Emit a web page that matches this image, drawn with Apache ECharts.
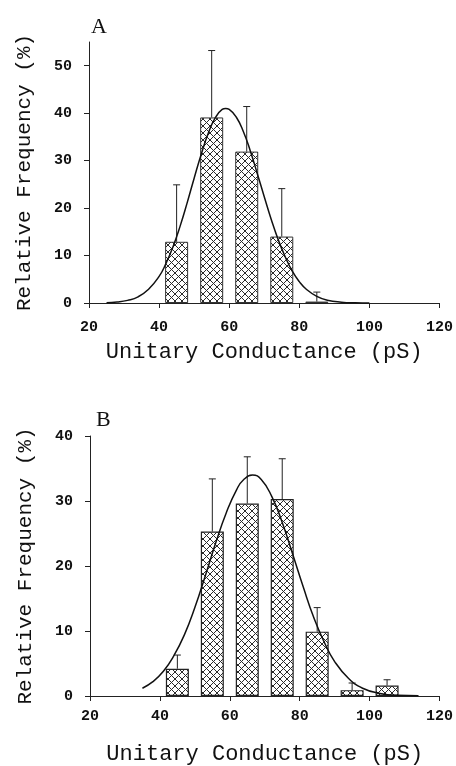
<!DOCTYPE html>
<html>
<head>
<meta charset="utf-8">
<script src="https://cdn.jsdelivr.net/npm/echarts@6/dist/echarts.min.js"></script>
<style>
html,body{margin:0;padding:0;background:#fff;}
#chart{width:456px;height:766px;}
</style>
</head>
<body>
<div id="chart"></div>
<script>
// ---- data ----
const panelLabels = ['A', 'B'];
const xTitle = 'Unitary Conductance (pS)';
const yTitle = 'Relative Frequency (%)';

// Panel A
const binsA = [45, 55, 65, 75, 85];
const freqA = [12.9, 39.1, 31.9, 14.0, 0.3];
const errTopA = [24.9, 53.2, 41.4, 24.1, 2.3];
const curveAx = [25, 28, 31, 34, 37, 40, 42, 44, 46, 48, 50, 52, 54, 56, 58, 59, 60, 62, 64, 66, 68, 70, 72, 74, 76, 78, 80, 82, 85, 88, 92, 96, 100];
const curveAy = [0.07, 0.2, 0.55, 1.3, 2.9, 5.6, 8.4, 11.9, 16.2, 21.1, 26.3, 31.3, 35.7, 39.0, 40.8, 41.0, 40.8, 39.2, 36.2, 32.1, 27.3, 22.4, 17.6, 13.3, 9.7, 6.7, 4.5, 2.9, 1.4, 0.6, 0.18, 0.04, 0];

// Panel B
const binsB = [45, 55, 65, 75, 85, 95, 105];
const freqB = [4.2, 25.3, 29.6, 30.3, 9.9, 0.9, 1.6];
const errTopB = [6.3, 33.4, 36.8, 36.5, 13.6, 2.0, 2.5];
const curveBx = [35, 38, 41, 44, 47, 50, 53, 56, 59, 62, 64, 66.5, 69, 72, 75, 78, 81, 84, 87, 90, 94, 98, 103, 108, 114];
const curveBy = [1.2, 2.2, 3.8, 6.2, 9.4, 13.6, 18.5, 23.6, 28.2, 31.8, 33.3, 34.0, 33.3, 30.7, 26.7, 21.8, 16.8, 12.1, 8.3, 5.3, 2.7, 1.2, 0.4, 0.1, 0.03];

// ---- styling helpers ----
function hatch() {
  const s = 7;
  const c = document.createElement('canvas');
  c.width = s; c.height = s;
  const g = c.getContext('2d');
  g.fillStyle = '#ffffff';
  g.fillRect(0, 0, s, s);
  g.strokeStyle = '#2a2a2a';
  g.lineWidth = 1;
  g.beginPath();
  g.moveTo(0, 0); g.lineTo(s, s);
  g.moveTo(s, 0); g.lineTo(0, s);
  g.stroke();
  return c;
}
const pattern = { image: hatch(), repeat: 'repeat' };

const monoFont = 'Liberation Mono';
function zip(a, b) { return a.map((v, i) => [v, b[i]]); }
function zip3(a, b, c) { return a.map((v, i) => [v, b[i], c[i]]); }

function errRender(params, api) {
  const x = api.value(0), v = api.value(1), e = api.value(2);
  const p0 = api.coord([x, v]);
  const p1 = api.coord([x, e]);
  return {
    type: 'group',
    children: [
      { type: 'line', shape: { x1: p0[0], y1: p0[1], x2: p1[0], y2: p1[1] }, style: { stroke: '#222', lineWidth: 1 } },
      { type: 'line', shape: { x1: p1[0] - 3.5, y1: p1[1], x2: p1[0] + 3.5, y2: p1[1] }, style: { stroke: '#222', lineWidth: 1 } }
    ]
  };
}

function xAxisDef(gridIndex, gap, margin) {
  return {
    type: 'value', gridIndex: gridIndex, min: 20, max: 120, interval: 20,
    name: xTitle, nameLocation: 'middle', nameGap: gap,
    nameTextStyle: { fontFamily: monoFont, fontSize: 22, color: '#111' },
    axisLine: { show: true, lineStyle: { color: '#222', width: 1 } },
    axisTick: { show: true, inside: false, length: 5, lineStyle: { color: '#222' } },
    axisLabel: { margin: margin, fontFamily: monoFont, fontSize: 15, fontWeight: 'bold', color: '#111' },
    splitLine: { show: false }
  };
}
function yAxisDef(gridIndex, max) {
  return {
    type: 'value', gridIndex: gridIndex, min: 0, max: max, interval: 10,
    name: yTitle, nameLocation: 'middle', nameGap: 54,
    nameTextStyle: { fontFamily: monoFont, fontSize: 21, color: '#111' },
    axisLine: { show: true, lineStyle: { color: '#222', width: 1 } },
    axisTick: { show: true, inside: false, length: 5, lineStyle: { color: '#222' } },
    axisLabel: { margin: 17, fontFamily: monoFont, fontSize: 15, fontWeight: 'bold', color: '#111', showMaxLabel: max % 10 === 0 },
    splitLine: { show: false }
  };
}

const chart = echarts.init(document.getElementById('chart'), null, { renderer: 'canvas' });
chart.setOption({
  backgroundColor: '#ffffff',
  animation: false,
  title: [
    { text: panelLabels[0], left: 91, top: 16, padding: 0, textStyle: { fontFamily: 'Liberation Serif', fontSize: 22, fontWeight: 'normal', color: '#111' } },
    { text: panelLabels[1], left: 96, top: 409, padding: 0, textStyle: { fontFamily: 'Liberation Serif', fontSize: 22, fontWeight: 'normal', color: '#111' } }
  ],
  grid: [
    { left: 89, right: 15, top: 42, bottom: 463 },
    { left: 90, right: 14, top: 436, bottom: 68 }
  ],
  xAxis: [xAxisDef(0, 38, 17), xAxisDef(1, 47, 13)],
  yAxis: [yAxisDef(0, 55), yAxisDef(1, 40)],
  series: [
    { type: 'bar', xAxisIndex: 0, yAxisIndex: 0, data: zip(binsA, freqA), barWidth: 23,
      itemStyle: { color: pattern, borderColor: '#333', borderWidth: 1 }, z: 2 },
    { type: 'custom', xAxisIndex: 0, yAxisIndex: 0, data: zip3(binsA, freqA, errTopA), renderItem: errRender,
      encode: { x: 0, y: [1, 2] }, z: 3 },
    { type: 'line', xAxisIndex: 0, yAxisIndex: 0, data: zip(curveAx, curveAy), smooth: true, showSymbol: false,
      lineStyle: { color: '#111', width: 1.5 }, z: 4 },

    { type: 'bar', xAxisIndex: 1, yAxisIndex: 1, data: zip(binsB, freqB), barWidth: 23,
      itemStyle: { color: pattern, borderColor: '#222', borderWidth: 1.2 }, z: 2 },
    { type: 'custom', xAxisIndex: 1, yAxisIndex: 1, data: zip3(binsB, freqB, errTopB), renderItem: errRender,
      encode: { x: 0, y: [1, 2] }, z: 3 },
    { type: 'line', xAxisIndex: 1, yAxisIndex: 1, data: zip(curveBx, curveBy), smooth: true, showSymbol: false,
      lineStyle: { color: '#111', width: 1.5 }, z: 4 }
  ]
});
</script>
</body>
</html>
